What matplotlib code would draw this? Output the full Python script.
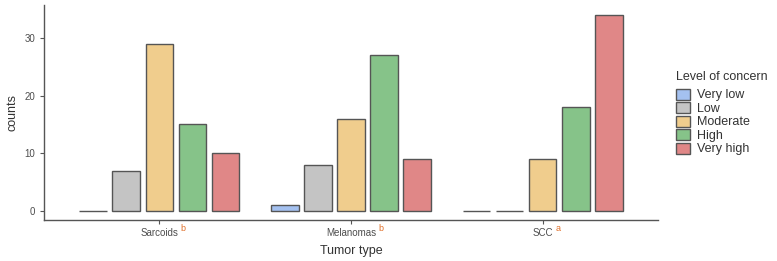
import matplotlib
matplotlib.use("Agg")
import matplotlib.pyplot as plt
import numpy as np
from matplotlib.patches import Patch

plt.rcParams['font.family'] = ['Liberation Sans', 'DejaVu Sans']

categories = ["Sarcoids", "Melanomas", "SCC"]
superscripts = ["b", "b", "a"]
levels = ["Very low", "Low", "Moderate", "High", "Very high"]
counts = {
    "Very low": [0, 1, 0],
    "Low": [7, 8, 0],
    "Moderate": [29, 16, 9],
    "High": [15, 27, 18],
    "Very high": [10, 9, 34],
}
colors = ["#a4c1f0", "#c4c4c4", "#f0cd8d", "#86c389", "#e08787"]
yticks = [0, 10, 20, 30]

fig = plt.figure(figsize=(7.77, 2.61), dpi=100)
ax = fig.add_axes([44/777, 1-220/261, (658-44)/777, (220-5)/261])

x = np.arange(1, len(categories)+1)
step = 0.172
width = 0.142
for i, lev in enumerate(levels):
    ax.bar(x + (i-2)*step, counts[lev], width=width, color=colors[i],
           edgecolor="#555555", linewidth=1.0, zorder=2)

ax.set_xlim(0.4, 3.6)
ax.set_ylim(-1.56, 35.7)
ax.set_yticks(yticks)
ax.set_xticks(x)
ax.set_xticklabels(categories)
for s in ["top", "right"]:
    ax.spines[s].set_visible(False)
for s in ["left", "bottom"]:
    ax.spines[s].set_color("#555555")
    ax.spines[s].set_linewidth(1.0)
ax.tick_params(axis="both", colors="#555555", labelcolor="#4d4d4d", labelsize=7, length=3, width=0.8)
ax.tick_params(axis="x", pad=2.5)
ax.set_xlabel("Tumor type", fontsize=9, color="#333333", labelpad=5)
ax.set_ylabel("counts", fontsize=9, color="#333333", labelpad=4)

# superscripts
fig.canvas.draw()
renderer = fig.canvas.get_renderer()
for lbl, sup in zip(ax.get_xticklabels(), superscripts):
    bb = lbl.get_window_extent(renderer)
    xr, yt = fig.transFigure.inverted().transform((bb.x1 + 2, bb.y1 + 4))
    fig.text(xr, yt, sup, fontsize=6.5, color="#e0702a", ha="left", va="top")

handles = [Patch(facecolor=c, edgecolor="#555555", linewidth=1.0, label=l) for c, l in zip(colors, levels)]
leg = fig.legend(handles=handles, title="Level of concern", loc="upper left",
                 bbox_to_anchor=(676/777, 1-71/261), frameon=False, fontsize=9,
                 title_fontsize=9, handlelength=1.1, handleheight=1.0,
                 handletextpad=0.6, labelspacing=0.05, borderaxespad=0,
                 borderpad=0)
leg._legend_box.align = "left"
leg._legend_box.sep = 4
for t in leg.get_texts():
    t.set_color("#333333")
leg.get_title().set_color("#333333")

fig.savefig("out.png", dpi=100)
